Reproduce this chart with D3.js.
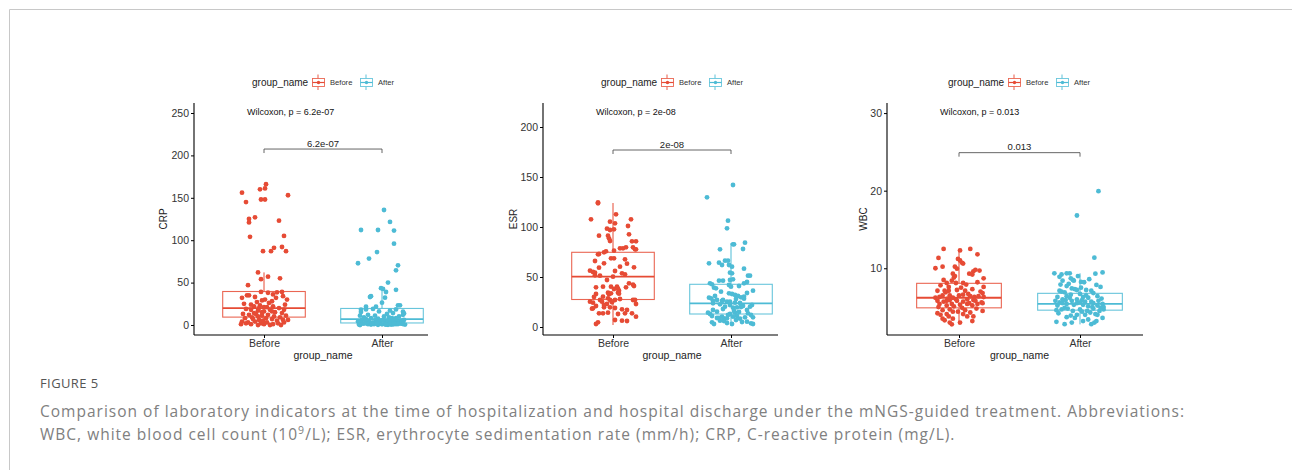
<!DOCTYPE html>
<html><head><meta charset="utf-8">
<script src="https://cdn.jsdelivr.net/npm/d3@7"></script>
<style>body{margin:0;background:#fff}svg{display:block}</style>
</head><body>
<script>
// ---------------- DATA ----------------
const groups = ["Before", "After"];
const groupColors = ["#E64B35", "#4DBBD5"];

const crpTicks = [0, 50, 100, 150, 200, 250];
const esrTicks = [0, 50, 100, 150, 200];
const wbcTicks = [10, 20, 30];

// box statistics [lower whisker, Q1, median, Q3, upper whisker]
const crpBeforeBox = [0, 9.3, 20, 39.5, 62];
const crpAfterBox = [0, 2.4, 7, 19.5, 43];
const esrBeforeBox = [2, 27.5, 50.3, 74.7, 124];
const esrAfterBox = [1, 13, 23.7, 42.7, 84];
const wbcBeforeBox = [2.77, 4.9, 6.2, 8.06, 12.45];
const wbcAfterBox = [2.77, 4.6, 5.4, 6.77, 9.35];

// individual observations (values) and their horizontal jitter (in 1/118 of the category step)
const crpBefore = [156,145,125,121,104,127,160,161,166,148,148,123,153,105,87,87,91,92,87,62,57,54,55,47,
  39,38,38.5,39,34,32,35,35,30,32,28,29,30,27,25,22,23,21,22,20,24,19,18,17,16,18,15,14,13,12,13,11,12,10,9,11,
  8,7,6,8,7,5,6,4,3,4,2,3,1,2,3,1,0,1,0,2,5,9,15,20,26,33,36,18,14,10,6,1,0,24,21,16];
const crpBeforeJit = [-22,-18,-15,-15,-14,-9,-4,1,2,-3,1,15,24,20,-1,7,10,18,22,-6,4,-3,16,-16,
  -3,4,13,18,19,-22,-17,-15,23,12,8,-2,1,-7,-20,-10,-4,3,9,15,21,-18,-13,-6,0,6,11,18,-21,-15,-8,-2,4,10,16,22,
  -19,-11,-5,2,8,13,19,-22,-16,-9,-3,3,9,14,20,-13,-6,0,6,-18,-1,-12,-2,-5,5,-9,9,20,-10,-6,24,-23,17,-13,0,8];

const crpAfter = [112,112,135.6,121.5,111.3,95.9,86,78.3,72.8,70.4,64.5,50,41.5,43.4,42.5,38.9,32.2,34,33,26.3,21.6,21.6,23.2,23.2,
  18.4,15.3,18,18.4,15.7,13.7,
  19,17,16,14,12,13,11,10,12,9,10,8,9,8,11,7.5,8,7,
  6,6,5,6,5,4,5,4,3,4,3,3,6,5,4,3,2.5,2.5,6,5,4,3,2,2,
  1.5,1,1,1.5,1,0.5,1,1.5,0.5,0,0.5,0.3,0.8,0.2,0.7,1.2,1.8,1.8,1.8,1.2,0.6,0.4,1.6,1.4];
const crpAfterJit = [-21,-4,2,8,12,12,-5,-13,-24,16,14,6,14,-1,1,4,3,-11,-12,0,-6,-16,16,18,
  -16,-21,-21,14,21,22,
  -9,8,-3,11,-14,5,-7,17,21,-18,2,-11,7,14,-22,-4,10,-16,
  -20,-6,3,12,19,-13,-1,8,-21,15,-9,4,22,-16,-3,11,17,-12,1,6,-24,20,-7,13,
  -19,-14,-8,-2,3,9,14,19,23,-22,-11,-4,0,6,11,16,-17,-5,8,21,-23,4,-10,12];

const esrBefore = [124.7,123.7,107.7,91.3,105.3,112.7,103.7,107.7,98.3,97,
  97.7,91.3,88.7,101,92.7,86,85.7,85.7,79.7,78.7,
  78.7,79.7,77.7,77.7,76.3,74.7,75.7,72.7,73,66,
  68.7,68.7,63.7,67.7,63.3,60.3,59.7,59.3,56.3,55,
  54.3,56,51.3,51.7,53.7,52.7,47,50.3,43.7,42.3,
  41,40.3,40.3,40.3,39.7,38,38.3,39.7,34.3,33.7,
  34.3,36.3,32.7,33.3,33,30.3,30,27,25.3,25.3,
  24.3,27,28.7,27,28,27,27,23,23,24.7,
  21,18.7,19.7,22,19.7,19,17.7,18.3,17,13.7,
  13.7,14.3,13.7,13,13.7,10.3,7,6.3,6,4.7,3];
const esrBeforeJit = [-15,-15,-22,-14,-3,3,2,18,-6,-3,
  1,-5,-4,15,16,-3,19,23,13,7,
  10,20,22,23,1,-9,-7,-15,-14,-18,
  -2,1,-9,12,14,7,21,-14,-23,-20,
  -18,2,-13,-18,9,12,-6,0,16,20,
  21,-10,-2,4,-17,1,5,13,-5,-2,
  5,6,-4,6,-17,-10,-19,-13,-11,-23,
  -20,-3,-5,2,7,20,22,23,-6,-1,
  -17,-20,-9,-9,-3,2,9,-21,14,-14,
  -10,-5,12,5,19,23,2,9,14,-15,-17];

const esrAfter = [129.7,142,106.3,98.7,82.7,82.7,84.3,78,77.7,63.7,
  66.3,66.3,62,64.3,62,60.3,58.3,54.3,53.7,51.3,
  51.3,47,47.7,46.3,46.3,43.7,42.7,45,43.7,41,
  39.3,38.7,36.3,42,40.3,35.3,33.7,33,32,31,
  29.7,30.3,29.3,28.7,27,27,25.3,25.3,24.3,28.3,
  23.7,22.7,22,20.3,20.3,19.3,19.7,17,15.3,13,
  14.3,13,14.3,17,13.7,10.3,8.7,8.7,11,9.7,
  9.7,6.3,4.7,3,3,5.3,3.7,3,8.3,9,10.3,
  31,28,26,24,22,21,18,16,15,12,11,9,7,6,5,4,20,26,34,12];
const esrAfterJit = [-24,2,-3,-4,2,3,14,12,-11,-22,
  -6,-3,-9,-12,-2,1,13,-1,1,17,
  19,-1,2,-12,-8,-21,-19,16,13,8,
  -17,-15,22,-2,0,-10,-2,1,4,7,
  10,13,-22,-20,-14,-8,-4,-1,4,13,
  -18,-11,21,19,-6,2,6,-18,-14,-21,
  -23,-1,4,16,17,-9,-7,-4,6,14,
  22,-11,-19,-17,1,16,20,22,9,-14,2,
  -16,5,-9,9,-1,12,-8,3,8,-3,-19,-12,5,-7,11,-4,10,-18,16,20];

const wbcBefore = [12.49,12.49,12.3,11.33,11.8,11.2,11.0,10.7,10.6,10.0,
  10.2,10.2,9.95,9.6,9.8,9.2,9.3,9.3,9.0,8.8,
  8.7,8.4,8.1,8.1,7.9,7.8,8.1,7.6,8.2,7.6,
  7.1,7.1,7.1,7.2,7.1,7.3,7.0,6.8,6.5,6.5,
  6.5,6.6,6.4,6.3,6.4,6.2,6.3,6.1,6.2,6.3,
  6.0,5.9,5.8,5.7,5.8,5.8,5.7,5.8,5.6,5.4,
  5.2,5.4,5.3,5.4,5.2,5.4,5.5,4.6,4.7,4.4,
  4.2,4.1,4.4,4.6,4.3,4.5,4.1,3.8,3.5,3.8,
  3.5,3.8,3.2,3.3,3.0,2.77,3.0,
  6.9,6.0,5.5,5.0,4.9,4.8,7.5,8.5,5.1,6.7,4.0,9.7,5.9];
const wbcBeforeJit = [-15,11,1,-20,18,-1,1,3,4,-23,
  -16,-4,-2,14,16,13,10,-6,-4,-5,
  24,-7,-3,4,7,-18,-12,-10,18,24,
  -21,-14,-10,-2,6,13,21,23,-16,-9,
  0,4,11,15,19,-23,-19,-11,-6,24,
  8,14,-21,-15,-12,-2,4,16,22,-19,
  -12,-7,1,8,13,18,23,-16,-9,-6,
  -21,-12,-1,6,11,23,4,8,-16,-10,
  -6,14,13,-14,-9,-7,1,
  -13,-3,10,-20,3,17,2,-15,-5,9,-18,20,-9];

const wbcAfter = [19.93,16.8,11.37,9.47,9.35,9.2,9.35,9.35,9.0,9.3,
  8.4,8.5,8.4,8.24,8.2,7.85,7.7,7.4,7.2,7.1,
  7.1,6.9,7.2,6.7,6.3,6.4,6.2,6.3,6.2,6.4,
  6.0,5.9,5.8,5.5,5.8,5.5,5.5,5.8,5.4,5.2,
  5.4,5.3,5.1,5.2,4.7,4.8,4.5,4.7,4.5,4.8,
  4.5,4.7,4.2,4.0,4.0,3.7,3.6,4.0,3.6,3.1,
  2.8,3.0,3.2,2.8,3.0,3.2,
  8.9,8.6,8.0,7.6,7.3,7.0,6.8,6.6,6.1,5.9,5.7,5.6,5.3,5.0,4.9,4.6,4.4,4.3,4.9,5.6,6.5,7.9,8.7,3.9,3.4,5.0,6.0,7.5,4.1,5.7];
const wbcAfterJit = [18,-3,14,22,-25,-18,-13,-10,-2,15,
  -17,-7,-6,1,4,16,-13,-8,6,11,
  -20,-15,-3,0,-22,-13,-10,3,8,17,
  -3,2,-24,-17,-8,-3,13,18,22,-22,
  -13,3,8,17,-18,-12,-7,0,7,13,
  19,23,-21,-3,5,-13,-5,17,22,-23,
  -15,-8,3,11,14,16,
  -20,9,-11,20,-5,-18,13,-9,21,-14,5,-20,-6,12,-15,-23,2,10,20,0,6,-19,-9,-9,8,23,-17,1,15,11];

const pLabels = ["6.2e-07", "2e-08", "0.013"];
const yTitles = ["CRP", "ESR", "WBC"];
const bracketValues = [207.5, 177, 24.9];

// ---------------- LAYOUT ----------------
const W = 1292, H = 470;
const plotTop = 103, plotBottom = 335;
const panels = [
  {title: yTitles[0], ticks: crpTicks, dom: [-11.8, 261.8], axisX: 194, right: 428, cx: [264, 382], titleX: 163, legendX: 252,
   series: [[crpBefore, crpBeforeJit, crpBeforeBox], [crpAfter, crpAfterJit, crpAfterBox]], p: pLabels[0], br: bracketValues[0]},
  {title: yTitles[1], ticks: esrTicks, dom: [-8, 224], axisX: 543, right: 778, cx: [613, 731], titleX: 513, legendX: 601,
   series: [[esrBefore, esrBeforeJit, esrBeforeBox], [esrAfter, esrAfterJit, esrAfterBox]], p: pLabels[1], br: bracketValues[1]},
  {title: yTitles[2], ticks: wbcTicks, dom: [1.4, 31.3], axisX: 887, right: 1143, cx: [959, 1080], titleX: 863, legendX: 948,
   series: [[wbcBefore, wbcBeforeJit, wbcBeforeBox], [wbcAfter, wbcAfterJit, wbcAfterBox]], p: pLabels[2], br: bracketValues[2]}
];

const svg = d3.select("body").append("svg").attr("width", W).attr("height", H)
  .style("font-family", "'Liberation Sans', Arial, sans-serif");
svg.append("rect").attr("width", W).attr("height", H).attr("fill", "#fff");

// frame
svg.append("path").attr("d", `M9.5,${H} V9.5 H${W}`).attr("fill", "none").attr("stroke", "#c8c8c8").attr("stroke-width", 1);

panels.forEach(P => {
  const g = svg.append("g");
  const y = d3.scaleLinear().domain(P.dom).range([plotBottom, plotTop]);
  const x = d3.scalePoint().domain(groups).range(P.cx);
  const step = P.cx[1] - P.cx[0];
  const boxW = step * 0.7;

  // legend
  const lg = g.append("g");
  lg.append("text").attr("x", P.legendX).attr("y", 85.5).attr("font-size", 10).attr("fill", "#222").text("group_name");
  const keyX = [P.legendX + 60, P.legendX + 108];
  const keyTx = [P.legendX + 78, P.legendX + 126];
  groups.forEach((gname, i) => {
    const kx = keyX[i], c = groupColors[i];
    const k = lg.append("g").attr("stroke", c).attr("fill", "none").attr("stroke-width", 0.9);
    k.append("line").attr("x1", kx + 6).attr("x2", kx + 6).attr("y1", 74.5).attr("y2", 78.5);
    k.append("line").attr("x1", kx + 6).attr("x2", kx + 6).attr("y1", 86.5).attr("y2", 90);
    k.append("rect").attr("x", kx + 0.5).attr("y", 78.5).attr("width", 12).attr("height", 8).attr("fill", "#fff").attr("stroke-opacity", 0.85);
    k.append("line").attr("x1", kx + 0.5).attr("x2", kx + 12.5).attr("y1", 82.5).attr("y2", 82.5).attr("stroke-width", 1.2);
    lg.append("circle").attr("cx", kx + 6.5).attr("cy", 82.5).attr("r", 1.7).attr("fill", c);
    lg.append("text").attr("x", keyTx[i]).attr("y", 85).attr("font-size", 7.6).attr("fill", "#333").text(gname);
  });

  // y axis
  const ya = g.append("g").attr("transform", `translate(${P.axisX},0)`)
    .call(d3.axisLeft(y).tickValues(P.ticks).tickSize(3).tickSizeOuter(0).tickPadding(2));
  ya.select(".domain").attr("stroke", "#000").attr("stroke-width", 1.1).attr("d", `M0,${plotTop}V${plotBottom}`);
  ya.selectAll(".tick line").attr("stroke", "#000").attr("stroke-width", 1);
  ya.selectAll(".tick text").attr("font-size", 10.5).attr("fill", "#333").attr("font-family", "'Liberation Sans', Arial, sans-serif");

  // x axis
  const xa = g.append("g").attr("transform", `translate(0,${plotBottom})`)
    .call(d3.axisBottom(x).tickSize(3).tickSizeOuter(0).tickPadding(2));
  xa.select(".domain").attr("d", `M${P.axisX},0H${P.right}`).attr("stroke", "#000").attr("stroke-width", 1.1);
  xa.selectAll(".tick line").attr("stroke", "#000");
  xa.selectAll(".tick text").attr("font-size", 10.5).attr("fill", "#333").attr("font-family", "'Liberation Sans', Arial, sans-serif");

  // axis titles
  g.append("text").attr("x", (P.cx[0] + P.cx[1]) / 2).attr("y", 359).attr("text-anchor", "middle")
    .attr("font-size", 10.5).attr("fill", "#222").text("group_name");
  g.append("text").attr("transform", `translate(${P.titleX + 3.5},${(plotTop + plotBottom) / 2}) rotate(-90)`)
    .attr("text-anchor", "middle").attr("font-size", 10).attr("fill", "#222").text(P.title);

  // boxes
  P.series.forEach((s, i) => {
    const bx = s[2];
    const c = groupColors[i];
    const cx = x(groups[i]);
    const bg = g.append("g").attr("stroke", c).attr("fill", "none");
    bg.append("line").attr("x1", cx).attr("x2", cx).attr("y1", y(bx[3])).attr("y2", y(bx[4])).attr("stroke-width", 1);
    bg.append("line").attr("x1", cx).attr("x2", cx).attr("y1", y(bx[1])).attr("y2", y(bx[0])).attr("stroke-width", 1);
    bg.append("rect").attr("x", cx - boxW / 2).attr("y", y(bx[3])).attr("width", boxW)
      .attr("height", y(bx[1]) - y(bx[3])).attr("fill", "#fff").attr("stroke-opacity", 0.85).attr("stroke-width", 1.1);
    bg.append("line").attr("x1", cx - boxW / 2).attr("x2", cx + boxW / 2).attr("y1", y(bx[2])).attr("y2", y(bx[2])).attr("stroke-width", 1.8);
  });
  // jittered points
  P.series.forEach((s, i) => {
    const [vals, jit] = s;
    const cx = x(groups[i]);
    const n = Math.min(vals.length, jit.length);
    g.append("g").selectAll("circle").data(d3.range(n)).join("circle")
      .attr("cx", k => cx + jit[k] / 118 * step)
      .attr("cy", k => y(vals[k]))
      .attr("r", 2.4).attr("fill", groupColors[i]);
  });

  // Wilcoxon label
  g.append("text").attr("x", P.axisX + 53).attr("y", 115).attr("font-size", 9).attr("fill", "#111")
    .text("Wilcoxon, p = " + P.p);

  // comparison bracket
  const by = y(P.br);
  g.append("path").attr("d", `M${P.cx[0]},${by + 4}V${by}H${P.cx[1]}V${by + 4}`)
    .attr("fill", "none").attr("stroke", "#555").attr("stroke-width", 0.9);
  g.append("text").attr("x", (P.cx[0] + P.cx[1]) / 2).attr("y", by - 2.5).attr("text-anchor", "middle")
    .attr("font-size", 9.5).attr("fill", "#222").text(P.p);
});

// caption
const capX = 40;
const cap = svg.append("g").style("font-family", "'Open Sans', 'Noto Sans', sans-serif");
cap.append("text").attr("x", capX).attr("y", 388).attr("font-size", 13).attr("fill", "#555").attr("letter-spacing", 0.4).text("FIGURE 5");
const capFs = 15.5;
const l1 = cap.append("text").attr("x", capX).attr("y", 417).attr("font-size", capFs).attr("fill", "#808080")
  .text("Comparison of laboratory indicators at the time of hospitalization and hospital discharge under the mNGS-guided treatment. Abbreviations:");
const l2 = cap.append("text").attr("x", capX).attr("y", 440).attr("font-size", capFs).attr("fill", "#808080");
l2.append("tspan").text("WBC, white blood cell count (10");
l2.append("tspan").attr("dy", -6).attr("font-size", capFs * 0.68).text("9");
l2.append("tspan").attr("dy", 6).text("/L); ESR, erythrocyte sedimentation rate (mm/h); CRP, C-reactive protein (mg/L).");
// letter spacing so that "Comparison of labo" spans about 160 px, as in the reference
const sub = l1.node().getSubStringLength(0, 18);
const ls = Math.max(0, (160 - sub) / 18);
l1.attr("letter-spacing", ls);
l2.attr("letter-spacing", ls);
</script>
</body></html>
